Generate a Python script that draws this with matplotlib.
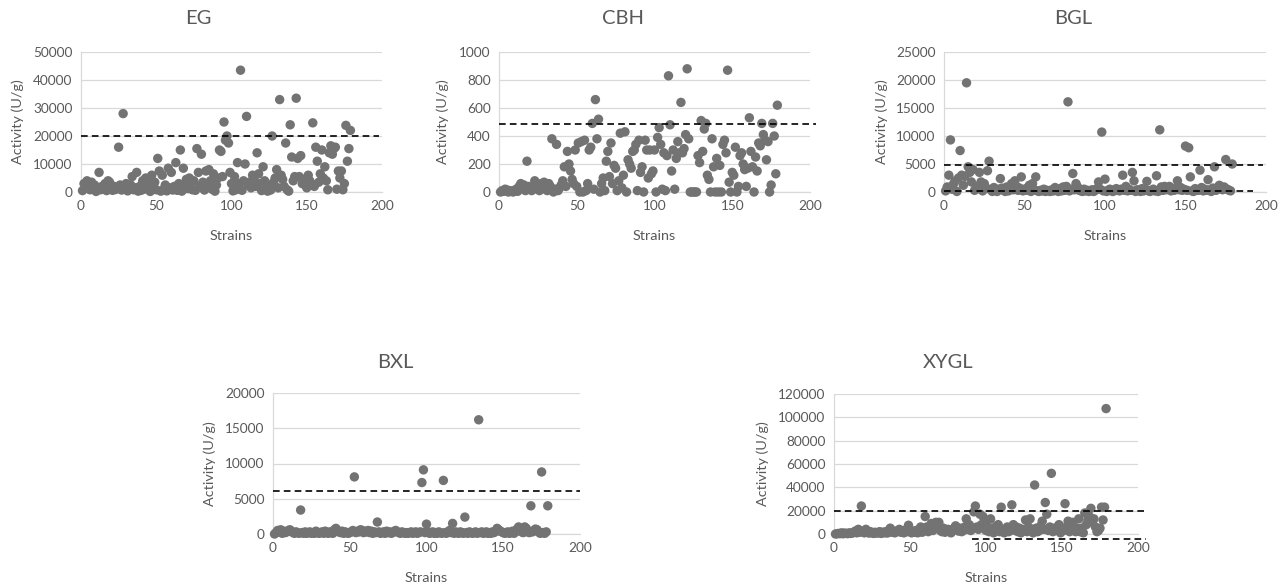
import numpy as np
import matplotlib.pyplot as plt

# strains 1..179, activity values (U/g)
strains = list(range(1, 180))

eg = [500, 3000, 1500, 4000, 2000, 800, 3500, 1000, 2500, 200,
      1500, 7000, 800, 2000, 1000, 3000, 500, 4000, 3500, 1200,
      600, 2000, 900, 1500, 16000, 2500, 700, 28000, 1800, 3000,
      400, 1200, 2500, 5500, 800, 1500, 7000, 300, 2000, 600,
      4000, 1000, 5000, 3000, 4500, 200, 6000, 1500, 3500, 800,
      12000, 7500, 300, 6000, 1000, 2500, 400, 8500, 1500, 7000,
      700, 2000, 10500, 600, 3000, 15000, 300, 8500, 2500, 4500,
      1200, 5000, 3000, 800, 4000, 600, 15500, 7000, 2000, 13500,
      3500, 700, 7500, 2500, 8000, 4000, 1000, 6500, 300, 2500,
      5000, 15000, 14500, 5500, 25000, 18500, 20000, 17500, 7000, 3000,
      400, 5500, 800, 10500, 3000, 43500, 600, 4000, 10000, 27000,
      2500, 3500, 1500, 6000, 4500, 2000, 14000, 6500, 3000, 500,
      9000, 4000, 1000, 300, 2500, 700, 20000, 3500, 5000, 8000,
      1500, 33000, 6000, 4500, 2000, 17500, 800, 300, 24000, 12500,
      4000, 5500, 33500, 12000, 5500, 13000, 3000, 4500, 2500, 1500,
      6000, 4000, 3000, 24700, 2000, 16000, 11000, 3500, 6500, 15000,
      5000, 9000, 4000, 800, 14000, 16500, 13500, 15500, 16000, 1000,
      7500, 5000, 7500, 800, 3000, 23800, 11000, 15500, 22000]

cbh = [0, 10, 5, 20, 15, 0, 10, 5, 0, 10,
       20, 5, 40, 60, 30, 50, 10, 220, 40, 20,
       10, 30, 80, 40, 20, 10, 60, 30, 70, 20,
       10, 60, 40, 380, 0, 20, 340, 10, 30, 50,
       80, 180, 40, 290, 200, 150, 90, 60, 300, 40,
       350, 0, 360, 0, 370, 10, 60, 300, 320, 490,
       20, 660, 380, 520, 0, 60, 100, 10, 220, 290,
       110, 350, 60, 190, 170, 10, 80, 420, 30, 120,
       430, 0, 230, 200, 170, 290, 300, 340, 10, 370,
       140, 180, 0, 370, 300, 100, 300, 130, 150, 300,
       0, 390, 460, 340, 20, 280, 10, 260, 830, 480,
       150, 300, 20, 240, 360, 280, 640, 280, 310, 410,
       880, 380, 0, 0, 0, 0, 0, 260, 210, 510,
       290, 450, 490, 120, 90, 0, 380, 180, 0, 240,
       0, 190, 0, 340, 370, 280, 870, 70, 0, 140,
       120, 320, 0, 40, 260, 280, 200, 160, 40, 170,
       530, 290, 180, 0, 250, 150, 350, 330, 490, 410,
       370, 230, 360, 0, 50, 490, 400, 130, 620]

bgl = [200, 900, 3000, 9300, 500, 1500, 2000, 100, 2500, 7400,
       3000, 1200, 2800, 19500, 4500, 3500, 1800, 4000, 300, 1000,
       600, 3500, 1800, 200, 1500, 800, 3800, 5500, 400, 100,
       800, 300, 100, 500, 2400, 700, 300, 100, 900, 200,
       600, 1500, 400, 2000, 1000, 300, 700, 2700, 200, 500,
       300, 800, 1200, 100, 1500, 400, 2700, 200, 100, 300,
       200, 500, 100, 300, 200, 100, 400, 200, 800, 300,
       100, 600, 200, 900, 300, 1000, 16100, 200, 500, 3300,
       400, 1500, 900, 300, 200, 100, 500, 200, 300, 100,
       200, 400, 100, 300, 600, 1800, 500, 10700, 200, 2300,
       100, 300, 500, 200, 100, 400, 600, 300, 200, 500,
       3000, 300, 1000, 200, 500, 300, 3500, 2000, 100, 400,
       300, 100, 600, 200, 400, 1900, 200, 100, 300, 500,
       200, 2900, 100, 11100, 900, 300, 1000, 400, 600, 1000,
       200, 500, 300, 700, 2000, 400, 800, 300, 500, 8200,
       300, 7900, 2700, 200, 100, 600, 400, 300, 3900, 800,
       200, 500, 300, 2200, 400, 100, 700, 4500, 300, 800,
       1200, 600, 400, 900, 5800, 500, 300, 200, 5000]

bxl = [0, 200, 500, 300, 600, 100, 400, 200, 300, 500,
       600, 400, 200, 100, 300, 200, 100, 3400, 200, 100,
       300, 100, 200, 300, 100, 200, 100, 400, 200, 100,
       200, 300, 100, 400, 200, 100, 300, 200, 100, 600,
       800, 500, 300, 200, 400, 100, 300, 200, 100, 200,
       300, 500, 8100, 200, 400, 300, 600, 500, 200, 400,
       300, 500, 200, 400, 100, 300, 200, 1700, 300, 100,
       200, 300, 100, 400, 200, 300, 100, 200, 400, 500,
       300, 200, 100, 300, 200, 100, 200, 100, 200, 300,
       100, 200, 300, 100, 200, 300, 7300, 9100, 200, 1400,
       300, 100, 200, 300, 100, 200, 100, 300, 200, 100,
       7600, 200, 100, 300, 500, 200, 1500, 100, 300, 200,
       100, 300, 200, 100, 2400, 200, 100, 300, 200, 100,
       200, 300, 100, 16200, 200, 300, 100, 200, 300, 100,
       200, 100, 300, 200, 400, 800, 600, 400, 300, 200,
       100, 200, 300, 100, 200, 400, 100, 300, 700, 1000,
       500, 300, 200, 1000, 800, 300, 200, 4000, 300, 500,
       700, 600, 300, 100, 8800, 200, 100, 300, 4000]

xygl = [0, 200, 500, 300, 1000, 200, 800, 500, 300, 1000,
        500, 800, 1500, 2500, 1000, 4000, 1500, 24000, 2000, 1000,
        4000, 1500, 800, 2000, 1000, 500, 1500, 800, 1000, 2000,
        500, 1500, 1000, 2000, 800, 3000, 5000, 1500, 2500, 1000,
        2000, 3000, 4000, 1500, 2500, 1000, 3500, 2000, 7500, 3000,
        1000, 2500, 1500, 3000, 1000, 2000, 6000, 1500, 3000, 15000,
        6000, 2000, 4000, 9000, 3000, 5000, 10000, 7000, 10000, 3000,
        2000, 5000, 1500, 3000, 4000, 2000, 1000, 3000, 5000, 7000,
        4000, 2500, 5000, 2000, 3000, 6000, 13000, 4000, 8000, 3000,
        5000, 19000, 24000, 6000, 4000, 17000, 8000, 15000, 10000, 3000,
        6000, 2000, 13000, 5000, 1000, 3000, 7000, 8000, 2000, 23000,
        4000, 1000, 3000, 6000, 2000, 5000, 25000, 8000, 3000, 6000,
        2000, 5000, 1000, 3000, 4000, 12000, 2000, 6000, 13000, 4000,
        1000, 42000, 5000, 2000, 3000, 7000, 11000, 4000, 27000, 17000,
        3000, 6000, 52000, 2000, 5000, 3000, 4000, 8000, 1000, 5000,
        3000, 26000, 6000, 11000, 2000, 4000, 10000, 3000, 2000, 5000,
        13000, 2000, 5000, 1000, 18000, 8000, 12000, 15000, 22000, 10000,
        13000, 6000, 2000, 3000, 5000, 23000, 12000, 23000, 107500]

# cut-off lines: (value, x start, x end)
eg_cutoffs = [(20000, 0, 198)]
cbh_cutoffs = [(485, 0, 204)]
bgl_cutoffs = [(4900, 0, 198), (230, 0, 192)]
bxl_cutoffs = [(6100, 0, 200)]
xygl_cutoffs = [(20000, 0, 205), (-4300, 91, 205)]

W, H = 1284, 585
TEXT = "#595959"
GRID = "#d9d9d9"
DOT = "#737373"

plt.rcParams["font.family"] = ["Lato", "DejaVu Sans"]

fig = plt.figure(figsize=(W / 100, H / 100), dpi=100)


def panel(left, right, top, bottom, ys, ymax, ystep, cutoffs, title, tx, ty, ylab_off):
    ax = fig.add_axes([left / W, 1 - bottom / H, (right - left) / W, (bottom - top) / H])
    ax.set_xlim(0, 200)
    ax.set_ylim(0, ymax)
    ax.set_xticks(np.arange(0, 201, 50))
    ax.set_yticks(np.arange(0, ymax + 1, ystep))
    ax.grid(axis="y", color=GRID, lw=0.9)
    ax.set_axisbelow(True)
    for s in ["top", "right"]:
        ax.spines[s].set_visible(False)
    for s in ["left", "bottom"]:
        ax.spines[s].set_color(GRID)
        ax.spines[s].set_linewidth(0.9)
    ax.tick_params(length=0, labelsize=9.8, labelcolor=TEXT, pad=6)
    ax.scatter(strains, ys, s=46, color=DOT, edgecolors="none", zorder=3, clip_on=False)
    for val, x0, x1 in cutoffs:
        ax.plot([x0, x1], [val, val], color="black", lw=1.2, dashes=(4, 2.5),
                zorder=4, clip_on=False)
    ax.set_xlabel("Strains", fontsize=10.4, color=TEXT, labelpad=13)
    ax.set_ylabel("Activity (U/g)", fontsize=10.4, color=TEXT)
    ax.yaxis.set_label_coords(-ylab_off / (right - left), 0.5)
    fig.text(tx / W, 1 - ty / H, title, fontsize=14.5, color=TEXT, ha="center", va="center")
    return ax


panel(81, 382, 52, 192, eg, 50000, 10000, eg_cutoffs, "EG", 198, 18, 57)
panel(499, 810, 52, 192, cbh, 1000, 200, cbh_cutoffs, "CBH", 623, 18, 50)
panel(944, 1266, 52, 192, bgl, 25000, 5000, bgl_cutoffs, "BGL", 1073, 18, 56)
panel(273, 580, 393, 534, bxl, 20000, 5000, bxl_cutoffs, "BXL", 395, 362, 57)
panel(834, 1138, 394, 534, xygl, 120000, 20000, xygl_cutoffs, "XYGL", 948, 362, 65)

fig.savefig("out.png", dpi=100)
